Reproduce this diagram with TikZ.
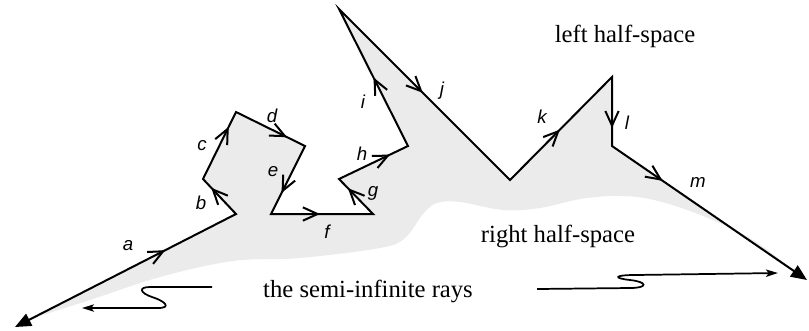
\documentclass[tikz,border=0pt]{standalone}
\usepackage{fontspec}
\setmainfont{Liberation Serif}
\setsansfont{Liberation Sans}
\usetikzlibrary{arrows.meta,decorations.markings}
\tikzset{
	midarrow/.style={postaction={decorate,decoration={markings,mark=at position #1 with {\arrow{Straight Barb[length=11pt,width=10pt]}}}}},
	lbl/.style={font=\fontsize{14}{16}\sffamily\itshape,inner sep=0pt},
	spacetext/.style={font=\fontsize{18.5}{22}\selectfont,inner sep=0pt,anchor=base},
	ray/.style={line width=1.3pt,-{Stealth[length=9pt,width=5.5pt,inset=2pt]}},
	endtip/.style={{Triangle[length=12pt,width=10pt]}-{Triangle[length=12pt,width=10pt]}},
}
\begin{document}
\begin{tikzpicture}[x=0.75pt,y=-0.75pt,line width=1.5pt,line join=miter]
			\useasboundingbox (0,0) rectangle (809,330);
			\path (15,327) coordinate (P0);
			\path (236,214) coordinate (P1);
			\path (203,179) coordinate (P2);
			\path (236,112) coordinate (P3);
			\path (305,146) coordinate (P4);
			\path (271,214) coordinate (P5);
			\path (373,214) coordinate (P6);
			\path (339,179) coordinate (P7);
			\path (408,146) coordinate (P8);
			\path (339,9) coordinate (P9);
			\path (510,180) coordinate (P10);
			\path (612,77) coordinate (P11);
			\path (612,146) coordinate (P12);
			\path (807,280) coordinate (P13);
			\fill[black!8] (P0) -- (P1) -- (P2) -- (P3) -- (P4) -- (P5) -- (P6) -- (P7) -- (P8) -- (P9) -- (P10) -- (P11) -- (P12) -- (P13)
				-- plot[smooth,tension=0.6] coordinates {(800,277) (753,240) (690,211) (637,197) (587,198) (540,208) (503,210) (460,202) (437,203) (423,214) (405,238) (380,248) (300,258) (233,261) (160,277) (90,300) (33,318)} -- cycle;
			\draw[endtip] (P0) -- (P1) -- (P2) -- (P3) -- (P4) -- (P5) -- (P6) -- (P7) -- (P8) -- (P9) -- (P10) -- (P11) -- (P12) -- (P13);
			\foreach \s/\e/\p in {P0/P1/0.68,P1/P2/0.75,P2/P3/0.78,P3/P4/0.74,P4/P5/0.69,P5/P6/0.48,P6/P7/0.74,P7/P8/0.74,P8/P9/0.5,P9/P10/0.49,P10/P11/0.49,P11/P12/0.74,P12/P13/0.26}
				\path[midarrow=\p] (\s) -- (\e);
			\node[lbl] (la) at (128,246) {a};
			\node[lbl] (lb) at (201,203) {b};
			\node[lbl] (lc) at (202,146) {c};
			\node[lbl] (ld) at (272,116) {d};
			\node[lbl] (le) at (273,172) {e};
			\node[lbl] (lf) at (327,232) {f};
			\node[lbl] (lg) at (373,193) {g};
			\node[lbl] (lh) at (362,154) {h};
			\node[lbl] (li) at (363,102) {i};
			\node[lbl] (lj) at (442,91) {j};
			\node[lbl] (lk) at (542,117) {k};
			\node[lbl] (ll) at (627,123) {l};
			\node[lbl] (lm) at (698,182) {m};
			\node[spacetext] (left) at (625,42) {left half-space};
			\node[spacetext] (right) at (558,242) {right half-space};
			\node[spacetext] (rays) at (368,297) {the semi-infinite rays};
			\path (212,287) coordinate (S1) (82,308) coordinate (T1) (537,289) coordinate (S2) (778,273) coordinate (T2);
			\draw[ray] (S1) -- (150,287) .. controls (138,287) and (140,293) .. (152,297) .. controls (165,301) and (172,308) .. (158,308) -- (T1);
			\draw[ray] (S2) -- (630,288) .. controls (648,288) and (648,282) .. (630,280) .. controls (612,278) and (615,275) .. (635,275) -- (T2);
		\end{tikzpicture}
\end{document}
